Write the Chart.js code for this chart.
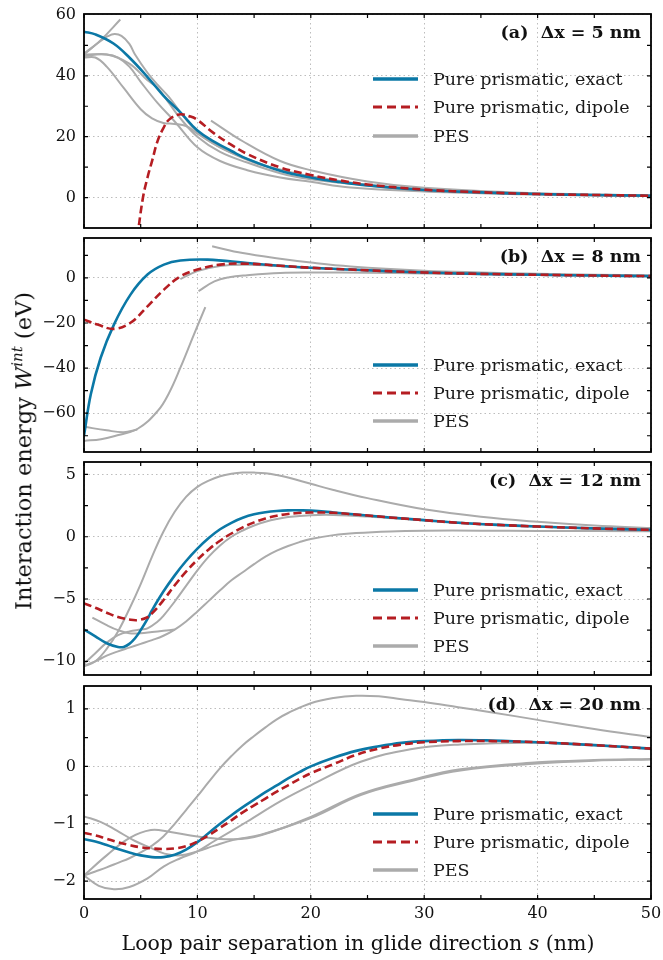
<!DOCTYPE html>
<html>
<head>
<meta charset="utf-8">
<script src="https://cdn.jsdelivr.net/npm/chart.js@4.4.1/dist/chart.umd.min.js"></script>
<style>
  html, body { margin: 0; padding: 0; background: #fff; overflow: hidden; }
  #fig { position: relative; width: 663px; height: 960px; overflow: hidden; }
  #fig canvas { position: absolute; left: 0; }
  .axis-title { position: absolute; font-family: 'DejaVu Serif', serif; font-size: 20.5px; color: #111; white-space: nowrap; }
  #ytitle { left: 22px; top: 451px; font-size: 22.5px; transform: translate(-50%, -50%) rotate(-90deg); }
  #xtitle { left: 358px; top: 943px; transform: translate(-50%, -50%); }
  .axis-title sup { font-size: 15px; }
</style>
</head>
<body>
<div id="fig">
  <canvas id="panel-a" width="680" height="254" style="top:-6px"></canvas>
  <canvas id="panel-b" width="680" height="254" style="top:218px"></canvas>
  <canvas id="panel-c" width="680" height="253" style="top:442px"></canvas>
  <canvas id="panel-d" width="680" height="263" style="top:666px"></canvas>
  <div id="ytitle" class="axis-title">Interaction energy <i>W</i><sup><i>int</i></sup> (eV)</div>
  <div id="xtitle" class="axis-title">Loop pair separation in glide direction <i>s</i> (nm)</div>
</div>
<script>
// data block: [s (nm), W (eV)] pairs
const panelTags = ['(a)', '(b)', '(c)', '(d)']
const deltaX = [5, 8, 12, 20]
const legendNames = ['Pure prismatic, exact', 'Pure prismatic, dipole', 'PES']

const xMajor = [0, 10, 20, 30, 40, 50]
const xMinor = [5, 15, 25, 35, 45]

// (a) dx = 5 nm
const aExact = [[0,54.5],[1,53.6],[2.6,50.6],[4,46],[5.6,39.6],[7,33.5],[8.5,28],[10,22],[11.5,18.3],[13,15.3],[14.4,12.7],[17.3,8.8],[20,6.6],[22.6,5.1],[25,4],[30,2.5],[35,1.7],[40,1.15],[45,0.85],[50,0.6]]
const aDipole = [[4.7,-13],[5.2,0],[5.6,6.6],[6,12],[6.5,18.7],[7,22.8],[7.5,25.6],[8.4,27.3],[9.4,26.6],[10,25.5],[11.5,21],[13,17.3],[14.4,14.3],[17.3,9.9],[20,7.4],[22.6,5.6],[25,4.3],[30,2.6],[35,1.75],[40,1.15],[45,0.85],[50,0.6]]
const aPes1 = [[0,47],[1.5,51.8],[3.2,58.5]]
const aPes2 = [[0,47.3],[1.5,51.5],[2.1,53],[2.7,53.7],[3.3,53.1],[4,50.5],[4.5,47],[5.6,41],[6.5,37],[7.5,33],[8.5,28],[10,21.5],[12,16.5],[14.4,12.7],[17.3,9],[20,6.8],[25,4.1],[30,2.6],[40,1.15],[50,0.6]]
const aPes3 = [[0,46.5],[2,47],[4,44],[5.6,38.5],[6.5,36],[7.5,31],[8.5,26],[10,20],[12,15],[14.4,11.5],[17.3,8],[20,6],[23.5,4.5],[30,2.4],[40,1.1],[50,0.6]]
const aPes4 = [[0,46],[1,46],[2,43],[3.5,36],[5,29],[6,26],[7,24.5],[8,24.2],[9,23.5],[10,21],[12,16.5],[15,11.5],[17.3,9.2],[20,7],[25,4.2],[30,2.6],[40,1.15],[50,0.6]]
const aPes5 = [[0,47],[2,47],[3,46],[4,43],[5,38],[6.5,31],[8,25],[10,16.5],[12,12],[14.4,9],[17.3,6.6],[20,5.2],[23.5,3.3],[30,2],[40,1],[50,0.5]]
const aPes6 = [[11.2,25.3],[14,18.5],[17.3,12],[20,9],[25,5.3],[30,3.2],[40,1.4],[50,0.7]]

// (b) dx = 8 nm
const bExact = [[0,-70],[0.6,-51.6],[1.47,-35.4],[2.64,-20.7],[4.1,-7.4],[5.6,1.5],[7.05,5.9],[8.5,7.7],[10.9,8.1],[14.4,6.6],[17.3,5.4],[20,4.5],[23.5,3.7],[30,2.4],[35,1.8],[40,1.4],[45,1.05],[50,0.8]]
const bDipole = [[0,-18.5],[1.2,-20.7],[2.64,-22.6],[4.1,-19.9],[5.6,-12.6],[7.05,-5.2],[8.5,0.7],[10,3.7],[12,5.9],[14.4,6.3],[17.3,5.4],[20,4.5],[23.5,3.7],[30,2.4],[35,1.8],[40,1.4],[45,1.05],[50,0.8]]
const bPes1 = [[11.3,14],[14,11],[17.3,8.5],[20,6.8],[23.5,5.1],[30,3.2],[35,2.4],[40,1.8],[45,1.4],[50,1.1]]
const bPes2 = [[10.1,-5.9],[11.5,-1.5],[12.8,0.3],[14.4,1.2],[17.3,2.2],[20,2.4],[25,2.3],[30,2],[40,1.3],[50,0.9]]
const bPes3 = [[0,-72.3],[1.5,-71.5],[2.64,-70.2],[4.7,-67],[6.5,-59],[7.5,-51],[8.5,-39.8],[9.7,-25],[10.7,-13]]
const bPes4 = [[0,-66],[2,-67.6],[3.5,-68.4],[4.7,-67.2]]
const bPes5 = [[8.5,-0.5],[10,3],[12,5.3],[14.4,5.8],[17.3,5.2],[20,4.4],[25,3.4],[30,2.4],[40,1.4],[50,0.8]]

// (c) dx = 12 nm
const cExact = [[0,-7.45],[1,-8],[2,-8.55],[3,-8.85],[3.5,-8.85],[4,-8.6],[4.5,-8.15],[5,-7.5],[5.6,-6.6],[6,-5.9],[7,-4.4],[8,-3.1],[9,-1.95],[10,-0.95],[11,-0.1],[12,0.6],[13,1.12],[14,1.52],[15,1.8],[16,1.97],[17,2.07],[18,2.12],[19,2.12],[20,2.1],[22,1.95],[24,1.78],[27,1.55],[30,1.33],[33,1.12],[36,0.97],[40,0.82],[45,0.67],[50,0.55]]
const cDipole = [[0,-5.35],[1,-5.7],[2,-6.1],[3,-6.45],[4,-6.65],[4.7,-6.7],[5.5,-6.5],[6,-6.15],[7,-5.1],[8,-3.9],[9,-2.8],[10,-1.85],[11,-1.02],[12,-0.32],[13,0.26],[14,0.75],[15,1.15],[16,1.46],[17,1.68],[18,1.83],[19,1.91],[20,1.95],[22,1.92],[24,1.78],[27,1.55],[30,1.33],[33,1.12],[36,0.97],[40,0.82],[45,0.67],[50,0.55]]
const cPes1 = [[0,-10.4],[1,-10],[2,-9],[3,-7.6],[4,-5.8],[5,-3.8],[6,-1.6],[7,0.4],[8,2],[9,3.2],[10,4],[11,4.5],[12,4.85],[13,5.05],[14,5.15],[15,5.15],[16,5.1],[17,4.95],[18,4.75],[20,4.25],[22,3.75],[25,3.1],[30,2.2],[35,1.6],[40,1.2],[45,0.9],[50,0.7]]
const cPes2 = [[0,-10.35],[1,-10],[2,-9.55],[3,-9.2],[4,-8.9],[5,-8.6],[6,-8.3],[7,-7.95],[8,-7.45],[9,-6.8],[10,-6],[11,-5.15],[12,-4.3],[13,-3.5],[14,-2.85],[15,-2.2],[16,-1.6],[17,-1.12],[18,-0.74],[19,-0.43],[20,-0.18],[22,0.13],[24,0.3],[27,0.43],[30,0.48],[35,0.49],[40,0.47],[50,0.44]]
const cPes3 = [[0,-10.2],[1,-9.35],[2,-8.5],[3,-7.9],[4,-7.6],[5,-7.45],[5.6,-7.35],[6.5,-6.8],[7,-6.35],[8,-5.2],[9,-3.95],[10,-2.7],[11,-1.6],[12,-0.7],[13,0],[14,0.5],[15,0.9],[16,1.2],[17,1.42],[18,1.58],[20,1.73],[22,1.75],[25,1.62],[30,1.3],[35,1.05],[40,0.82],[45,0.65],[50,0.52]]
const cPes4 = [[0.74,-6.5],[2,-7.1],[3,-7.5],[4,-7.75],[5,-7.75],[6,-7.65],[7,-7.55],[8,-7.45]]

// (d) dx = 20 nm
const dExact = [[0,-1.27],[1,-1.31],[2,-1.37],[3,-1.44],[4,-1.5],[5,-1.55],[6,-1.58],[7,-1.58],[8,-1.54],[9,-1.45],[10,-1.32],[11,-1.16],[12,-1],[13,-0.85],[14,-0.71],[15,-0.58],[16,-0.45],[17,-0.33],[18,-0.21],[19,-0.1],[20,0],[22,0.15],[24,0.27],[26,0.35],[28,0.41],[30,0.44],[33,0.46],[36,0.45],[40,0.42],[45,0.37],[50,0.31]]
const dDipole = [[0,-1.16],[1,-1.2],[2,-1.26],[3,-1.32],[4,-1.37],[5,-1.41],[6,-1.43],[7,-1.44],[8,-1.43],[9,-1.39],[10,-1.31],[11,-1.2],[12,-1.07],[13,-0.94],[14,-0.8],[15,-0.68],[16,-0.56],[17,-0.44],[18,-0.33],[19,-0.22],[20,-0.12],[22,0.04],[24,0.2],[26,0.31],[28,0.38],[30,0.42],[33,0.44],[36,0.44],[40,0.42],[45,0.37],[50,0.31]]
const dPes1 = [[0,-1.9],[1,-1.83],[2,-1.76],[3,-1.68],[4,-1.6],[5,-1.5],[6,-1.38],[7,-1.22],[8,-1],[9,-0.76],[10,-0.52],[11,-0.27],[12,-0.03],[13,0.18],[14,0.37],[15,0.53],[16,0.68],[17,0.82],[18,0.93],[20,1.1],[22,1.19],[24,1.23],[26,1.22],[28,1.17],[30,1.12],[33,1.03],[36,0.94],[40,0.81],[45,0.65],[50,0.51]]
const dPes2 = [[0,-0.87],[1.5,-0.97],[2.9,-1.12],[4.5,-1.3],[5.9,-1.42],[7.1,-1.52],[8.5,-1.55],[10,-1.48],[11.5,-1.38],[13.2,-1.28],[15.6,-1.19],[20,-0.9],[24.4,-0.5],[28.8,-0.26],[33.2,-0.07],[40,0.05],[45,0.1],[50,0.12]]
const dPes3 = [[0,-1.9],[2,-1.55],[4,-1.25],[5.9,-1.11],[7.5,-1.14],[10,-1.22],[13.2,-1.27],[15.6,-1.2],[20,-0.88],[24.4,-0.48],[28.8,-0.24],[33.2,-0.05],[40,0.07],[45,0.11],[50,0.13]]
const dPes4 = [[0,-1.9],[1.3,-2.08],[2.64,-2.14],[4,-2.1],[5.6,-1.95],[7.05,-1.74],[8.5,-1.6],[10,-1.48],[11.5,-1.3],[14.4,-0.96],[17.3,-0.61],[20,-0.33],[24.4,0.08],[28.8,0.3],[33.2,0.38],[40,0.41],[45,0.37],[50,0.3]]

// y axis limits and ticks per panel
const yLimits = [[-10, 60.3], [-77.2, 17.7], [-11.1, 6.0], [-2.31, 1.4]]
const yMajor = [[0, 20, 40, 60], [-60, -40, -20, 0], [-10, -5, 0, 5], [-2, -1, 0, 1]]
const yMinor = [[10, 30, 50], [-70, -50, -30, -10, 10], [-7.5, -2.5, 2.5], [-1.5, -0.5, 0.5]]

// styles ---------------------------------------------------------------------
const BLUE = '#0b78a6'
const RED = '#b51d22'
const GRAY = '#ababab'
const FONT = "'DejaVu Serif', serif"

Chart.defaults.font.family = FONT
Chart.defaults.color = '#111'

const pts = arr => arr.map(p => ({ x: p[0], y: p[1] }))
const fmt = v => v < 0 ? '\u2212' + Math.abs(v) : String(v)

// frame, inward ticks, panel label and legend drawn inside the plot box
const panelDecor = {
    id: 'panelDecor',
    afterDraw(chart, args, o) {
        const { ctx, chartArea: { left, right, top, bottom }, scales: { x, y } } = chart
        ctx.save()
        ctx.strokeStyle = '#000'
        ctx.lineWidth = 1.2
        ctx.beginPath()
        xMajor.concat(xMinor).forEach(v => {
            const px = x.getPixelForValue(v)
            ctx.moveTo(px, bottom); ctx.lineTo(px, bottom - 4)
            ctx.moveTo(px, top); ctx.lineTo(px, top + 4)
        })
        o.yTicks.forEach(v => {
            const py = y.getPixelForValue(v)
            if (py < top + 1 || py > bottom - 1) return
            ctx.moveTo(left, py); ctx.lineTo(left + 4, py)
            ctx.moveTo(right, py); ctx.lineTo(right - 4, py)
        })
        ctx.stroke()
        ctx.lineWidth = 1.8
        ctx.strokeRect(left, top, right - left, bottom - top)

        // panel label
        ctx.font = 'bold 17.5px ' + FONT
        ctx.textAlign = 'right'
        ctx.textBaseline = 'middle'
        ctx.fillStyle = '#111'
        ctx.fillText(o.label, right - 10, top + 19)

        // legend
        const styles = [
            { c: BLUE, w: 3.5, d: [] },
            { c: RED, w: 3, d: [9, 5] },
            { c: GRAY, w: 3.5, d: [] },
        ]
        ctx.font = '17.5px ' + FONT
        ctx.textAlign = 'left'
        o.legendRows.forEach((dy, i) => {
            const yy = top + dy
            ctx.beginPath()
            ctx.setLineDash(styles[i].d)
            ctx.strokeStyle = styles[i].c
            ctx.lineWidth = styles[i].w
            ctx.moveTo(right - 278, yy)
            ctx.lineTo(right - 233, yy)
            ctx.stroke()
            ctx.setLineDash([])
            ctx.fillStyle = '#1a1a1a'
            ctx.fillText(legendNames[i], right - 218, yy + 1)
        })
        ctx.restore()
    }
}

function makePanel(id, k, exact, dipole, pesList, legendRows, bottomAxis) {
    const datasets = [
        { data: pts(dipole), borderColor: RED, borderWidth: 2.6, borderDash: [8, 4] },
        { data: pts(exact), borderColor: BLUE, borderWidth: 2.6 },
    ].concat(pesList.map(p => ({ data: pts(p), borderColor: GRAY, borderWidth: 2 })))

    return new Chart(document.getElementById(id), {
        type: 'line',
        data: { datasets: datasets },
        options: {
            responsive: false,
            animation: false,
            devicePixelRatio: 1,
            layout: { padding: { left: 0, right: 29, top: 20, bottom: bottomAxis ? 0 : 20 } },
            elements: {
                point: { radius: 0 },
                line: { tension: 0.4, fill: false }
            },
            scales: {
                x: {
                    type: 'linear',
                    min: 0,
                    max: 50,
                    ticks: { display: bottomAxis, stepSize: 10, padding: 5, font: { size: 16 }, color: '#111' },
                    grid: { drawTicks: false, color: '#bdbdbd', lineWidth: 1 },
                    border: { display: false, dash: [1.5, 3] },
                    afterFit: s => { s.height = bottomAxis ? 30 : 0 }
                },
                y: {
                    min: yLimits[k][0],
                    max: yLimits[k][1],
                    afterBuildTicks: s => { s.ticks = yMajor[k].map(v => ({ value: v })) },
                    ticks: { autoSkip: false, padding: 8, font: { size: 16 }, color: '#111', callback: fmt },
                    grid: { drawTicks: false, color: '#bdbdbd', lineWidth: 1 },
                    border: { display: false, dash: [1.5, 3] },
                    afterFit: s => { s.width = 84 }
                }
            },
            plugins: {
                legend: { display: false },
                tooltip: { enabled: false },
                panelDecor: {
                    label: panelTags[k] + '  \u0394x = ' + deltaX[k] + ' nm',
                    yTicks: yMajor[k].concat(yMinor[k]),
                    legendRows: legendRows
                }
            }
        },
        plugins: [panelDecor]
    })
}

makePanel('panel-a', 0, aExact, aDipole, [aPes1, aPes2, aPes3, aPes4, aPes5, aPes6], [65, 93, 122], false)
makePanel('panel-b', 1, bExact, bDipole, [bPes1, bPes2, bPes3, bPes4, bPes5], [127, 155, 183], false)
makePanel('panel-c', 2, cExact, cDipole, [cPes1, cPes2, cPes3, cPes4], [128, 156, 184], false)
makePanel('panel-d', 3, dExact, dDipole, [dPes1, dPes2, dPes3, dPes4], [128, 156, 184], true)
</script>
</body>
</html>
